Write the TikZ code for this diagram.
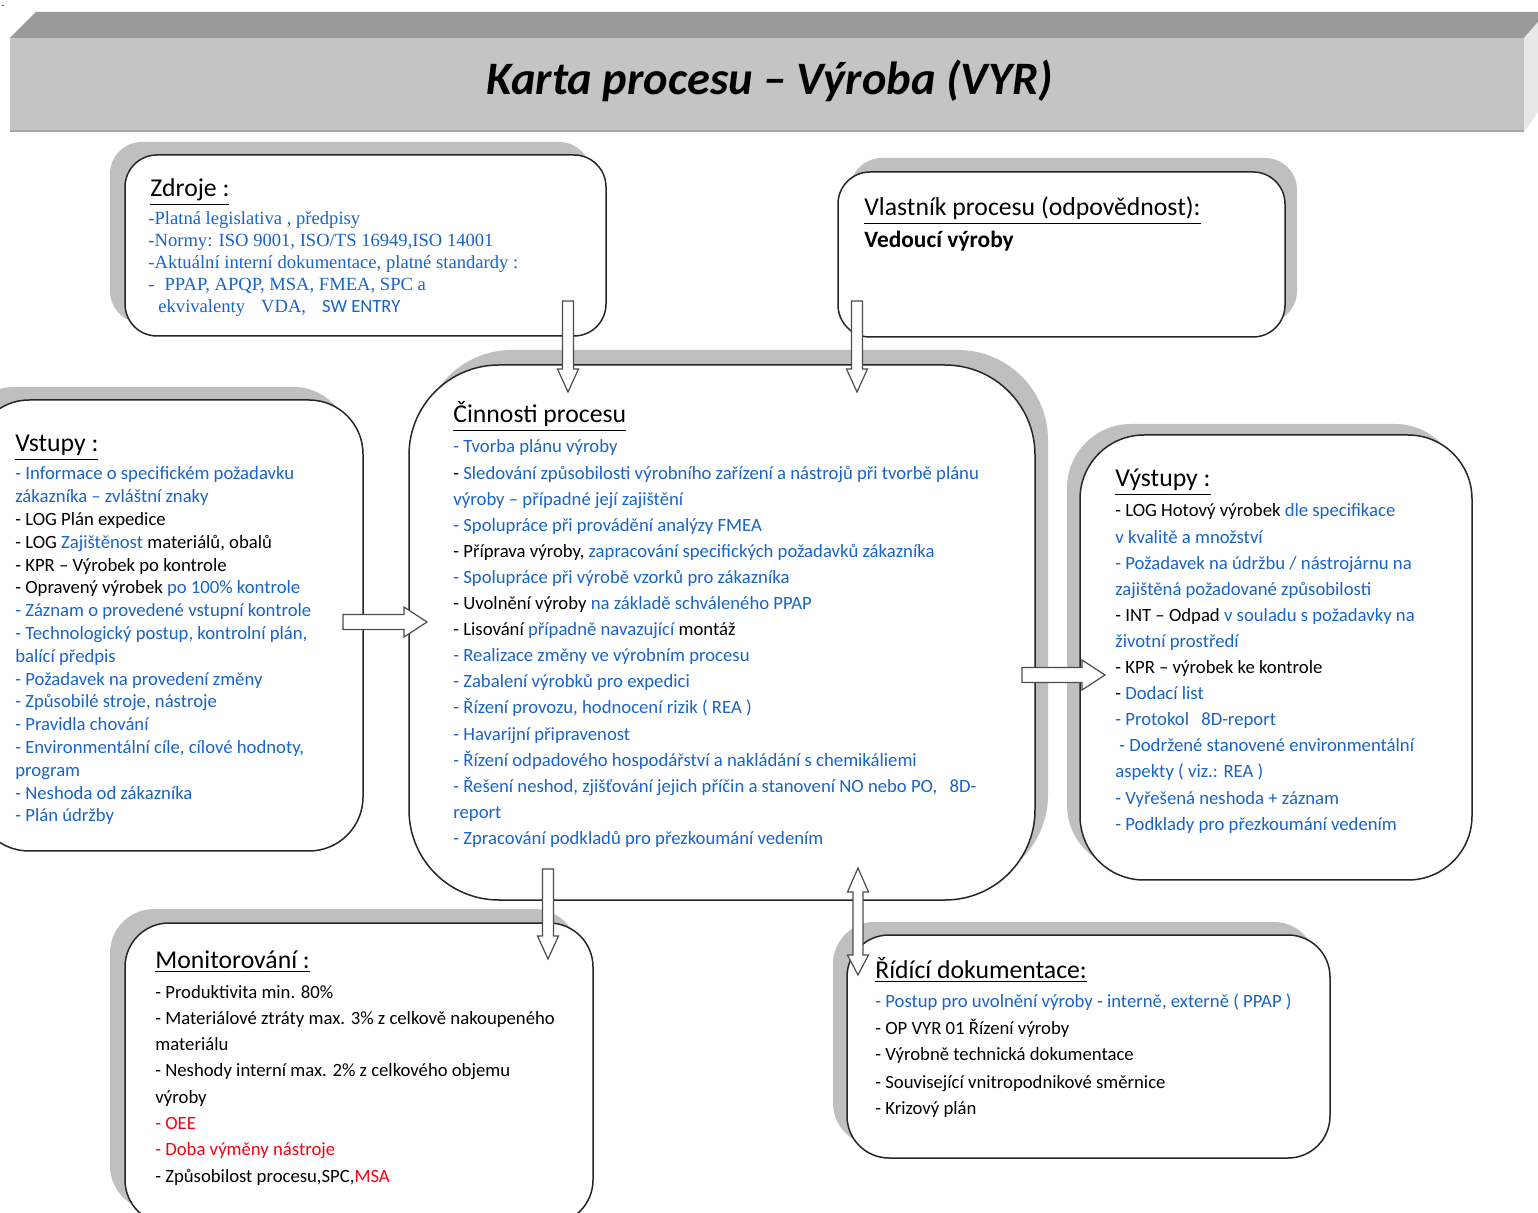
\documentclass[tikz,border=0pt]{standalone}
\usepackage{fontspec}
\setmainfont{Carlito}
\newfontfamily\tnr{Liberation Serif}
\newfontfamily\carl{Carlito}
\usetikzlibrary{calc}

\definecolor{tblue}{RGB}{25,100,200}
\definecolor{tred}{RGB}{250,0,20}
\definecolor{shadowgray}{RGB}{191,191,191}
\definecolor{titlefront}{RGB}{196,196,196}
\definecolor{titletop}{RGB}{154,154,154}
\definecolor{titleside}{RGB}{232,232,232}

\newcommand\bl[1]{\textcolor{tblue}{#1}}
\newcommand\rd[1]{\textcolor{tred}{#1}}

\tikzset{
  cardbox/.style={fill=white, draw=black!85, line width=0.75pt, inner sep=0pt, outer sep=0pt},
  heading/.style={anchor=base west, inner sep=0pt, font=\fontsize{12.85}{15}\selectfont},
  bodytext/.style={anchor=base west, inner sep=0pt},
  blockarrow/.style={fill=white, draw=black!70, line width=0.6pt, line join=miter},
}

% rounded card with a grey offset shadow
% #1 name, #2 #3 top-left, #4 #5 bottom-right, #6 corner radius, #7 #8 shadow offset
\newcommand\card[8]{%
  \fill[shadowgray, rounded corners=#6] ($(#2,#3)+(#7,#8)$) rectangle ($(#4,#5)+(#7,#8)$);
  \node[cardbox, rounded corners=#6, anchor=north west,
        minimum width={(#4-(#2))*0.5pt}, minimum height={(#5-(#3))*0.5pt}] (#1) at (#2,#3) {};
}

% hollow block arrows
\newcommand\blockdown[2]{%
  \draw[blockarrow] ($(#1)+(-5.5,0)$) -- ($(#2)+(-5.5,-23)$) -- ($(#2)+(-10.5,-23)$) -- (#2)
    -- ($(#2)+(10.5,-23)$) -- ($(#2)+(5.5,-23)$) -- ($(#1)+(5.5,0)$) -- cycle;}
\newcommand\blockright[2]{%
  \draw[blockarrow] ($(#1)+(0,-7.5)$) -- ($(#2)+(-23,-7.5)$) -- ($(#2)+(-23,-15)$) -- (#2)
    -- ($(#2)+(-23,15)$) -- ($(#2)+(-23,7.5)$) -- ($(#1)+(0,7.5)$) -- cycle;}
\newcommand\blockupdown[2]{%
  \draw[blockarrow] (#1) -- ($(#1)+(10.5,24)$) -- ($(#1)+(5,24)$) -- ($(#2)+(5,-20)$)
    -- ($(#2)+(10.5,-20)$) -- (#2) -- ($(#2)+(-10.5,-20)$) -- ($(#2)+(-5,-20)$)
    -- ($(#1)+(-5,24)$) -- ($(#1)+(-10.5,24)$) -- cycle;}

\begin{document}
\begin{tikzpicture}[x=0.5pt, y=-0.5pt]
\useasboundingbox (0,0) rectangle (1538,1213);
\fill[white] (0,0) rectangle (1538,1213);

% ---- title banner ----
\node[inner sep=0pt, anchor=base west, font=\fontsize{5}{5}\selectfont] (mark) at (1,9) {-};
\fill[titletop] (10,38) -- (36,12) -- (1538,12) -- (1538,22) -- (1524,38) -- cycle;
\fill[titleside] (1524,38) -- (1538,22) -- (1538,112) -- (1524,132) -- cycle;
\fill[titlefront] (10,38) rectangle (1524,132);
\draw[black!35, line width=0.6pt] (10,131) -- (1524,131);
\node[inner sep=0pt, anchor=base, font=\fontsize{23.25}{28}\selectfont\bfseries\itshape] (title)
  at (770,95) {Karta procesu – Výroba (VYR)};

% ---- cards ----
\card{zdroje}{125}{155}{606}{336}{16pt}{-15}{-13}
\card{vlastnik}{838}{172}{1285}{337}{16pt}{12}{-14}
\card{vstupy}{-25}{400}{363}{851}{27pt}{-15}{-13}
\card{cinnosti}{409}{365}{1035}{900}{45pt}{13}{-15}
\card{vystupy}{1080}{435}{1472}{880}{32pt}{-13}{-11}
\card{monitor}{125}{923}{593}{1224}{22pt}{-15}{-14}
\card{ridici}{847}{935}{1330}{1158}{21pt}{-14}{-13}

% ---- Zdroje ----
\node[heading] (zdroje-h) at (150,197) {\underline{Zdroje :}};
\node[bodytext, text=tblue, font=\tnr\fontsize{9.3}{10.9}\selectfont] (zdroje-b) at (148,225) {\parbox[t]{300pt}{\raggedright
-Platná legislativa , předpisy\\
-Normy: ISO 9001, ISO/TS 16949,ISO 14001\\
-Aktuální interní dokumentace, platné standardy :\\
-\hspace{5pt}PPAP, APQP, MSA, FMEA, SPC a\\
\hspace*{5pt}ekvivalenty\hspace{8pt}VDA,\hspace{8pt}{\carl SW ENTRY}}};

% ---- Vlastník procesu ----
\node[heading] (vlastnik-h) at (864,216) {\underline{Vlastník procesu (odpovědnost):}};
\node[bodytext, font=\fontsize{11.7}{14}\selectfont\bfseries] (vlastnik-b) at (864,248) {Vedoucí výroby};

% ---- Vstupy ----
\node[heading] (vstupy-h) at (15,452) {\underline{Vstupy :}};
\node[bodytext, font=\fontsize{9.35}{11.4}\selectfont] (vstupy-b) at (15,480) {\parbox[t]{300pt}{\raggedright
\bl{- Informace o specifickém požadavku}\\
\bl{zákazníka – zvláštní znaky}\\
- LOG Plán expedice\\
- LOG \bl{Zajištěnost} materiálů, obalů\\
- KPR – Výrobek po kontrole\\
- Opravený výrobek \bl{po 100\% kontrole}\\
\bl{- Záznam o provedené vstupní kontrole}\\
\bl{- Technologický postup, kontrolní plán,}\\
\bl{balící předpis}\\
\bl{- Požadavek na provedení změny}\\
\bl{- Způsobilé stroje, nástroje}\\
\bl{- Pravidla chování}\\
\bl{- Environmentální cíle, cílové hodnoty,}\\
\bl{program}\\
\bl{- Neshoda od zákazníka}\\
\bl{- Plán údržby}}};

% ---- Činnosti procesu ----
\node[heading] (cinnosti-h) at (453,423) {\underline{Činnosti procesu}};
\node[bodytext, font=\fontsize{9.35}{13.05}\selectfont] (cinnosti-b) at (453,453) {\parbox[t]{400pt}{\raggedright
\bl{- Tvorba plánu výroby}\\
- \bl{Sledování způsobilosti výrobního zařízení a nástrojů při tvorbě plánu}\\
\bl{výroby – případné její zajištění}\\
\bl{- Spolupráce při provádění analýzy FMEA}\\
- Příprava výroby, \bl{zapracování specifických požadavků zákazníka}\\
\bl{- Spolupráce při výrobě vzorků pro zákazníka}\\
- Uvolnění výroby \bl{na základě schváleného PPAP}\\
- Lisování \bl{případně navazující} montáž\\
\bl{- Realizace změny ve výrobním procesu}\\
\bl{- Zabalení výrobků pro expedici}\\
\bl{- Řízení provozu, hodnocení rizik ( REA )}\\
\bl{- Havarijní připravenost}\\
\bl{- Řízení odpadového hospodářství a nakládání s chemikáliemi}\\
\bl{- Řešení neshod, zjišťování jejich příčin a stanovení NO nebo PO,\hspace{4pt} 8D-}\\
\bl{report}\\
\bl{- Zpracování podkladů pro přezkoumání vedením}}};

% ---- Výstupy ----
\node[heading] (vystupy-h) at (1115,487) {\underline{Výstupy :}};
\node[bodytext, font=\fontsize{9.35}{13.05}\selectfont] (vystupy-b) at (1115,517) {\parbox[t]{300pt}{\raggedright
- LOG Hotový výrobek \bl{dle specifikace}\\
\bl{v kvalitě a množství}\\
\bl{- Požadavek na údržbu / nástrojárnu na}\\
\bl{zajištěná požadované způsobilosti}\\
- INT – Odpad \bl{v souladu s požadavky na}\\
\bl{životní prostředí}\\
- KPR – výrobek ke kontrole\\
- \bl{Dodací list}\\
\bl{- Protokol\hspace{4pt} 8D-report}\\
\hspace*{2pt}\bl{- Dodržené stanovené environmentální}\\
\bl{aspekty ( viz.: REA )}\\
\bl{- Vyřešená neshoda + záznam}\\
\bl{- Podklady pro přezkoumání vedením}}};

% ---- Monitorování ----
\node[heading] (monitor-h) at (155,968) {\underline{Monitorování :}};
\node[bodytext, font=\fontsize{9.35}{13.15}\selectfont] (monitor-b) at (155,998) {\parbox[t]{300pt}{\raggedright
- Produktivita min. 80\%\\
- Materiálové ztráty max. 3\% z celkově nakoupeného\\
materiálu\\
- Neshody interní max. 2\% z celkového objemu\\
výroby\\
\rd{- OEE}\\
\rd{- Doba výměny nástroje}\\
- Způsobilost procesu,SPC,\rd{MSA}}};

% ---- Řídící dokumentace ----
\node[heading] (ridici-h) at (875,978) {\underline{Řídící dokumentace:}};
\node[bodytext, font=\fontsize{9.35}{13.5}\selectfont] (ridici-b) at (875,1007) {\parbox[t]{320pt}{\raggedright
\bl{- Postup pro uvolnění výroby - interně, externě ( PPAP )}\\
- OP VYR 01 Řízení výroby\\
- Výrobně technická dokumentace\\
- Související vnitropodnikové směrnice\\
- Krizový plán}};

% ---- connectors ----
\coordinate (zd-out) at (568,301);  \coordinate (ci-in1) at (568,392);
\coordinate (vl-out) at (857,301);  \coordinate (ci-in2) at (857,392);
\coordinate (vs-out) at (343,622);  \coordinate (ci-in3) at (427,622);
\coordinate (ci-out1) at (1022,675); \coordinate (vy-in) at (1105,675);
\coordinate (ci-out2) at (548,869); \coordinate (mo-in) at (548,959);
\coordinate (ci-io) at (858,868);   \coordinate (ri-io) at (858,975);

\blockdown{zd-out}{ci-in1}
\blockdown{vl-out}{ci-in2}
\blockright{vs-out}{ci-in3}
\blockright{ci-out1}{vy-in}
\blockdown{ci-out2}{mo-in}
\blockupdown{ci-io}{ri-io}
\end{tikzpicture}
\end{document}
